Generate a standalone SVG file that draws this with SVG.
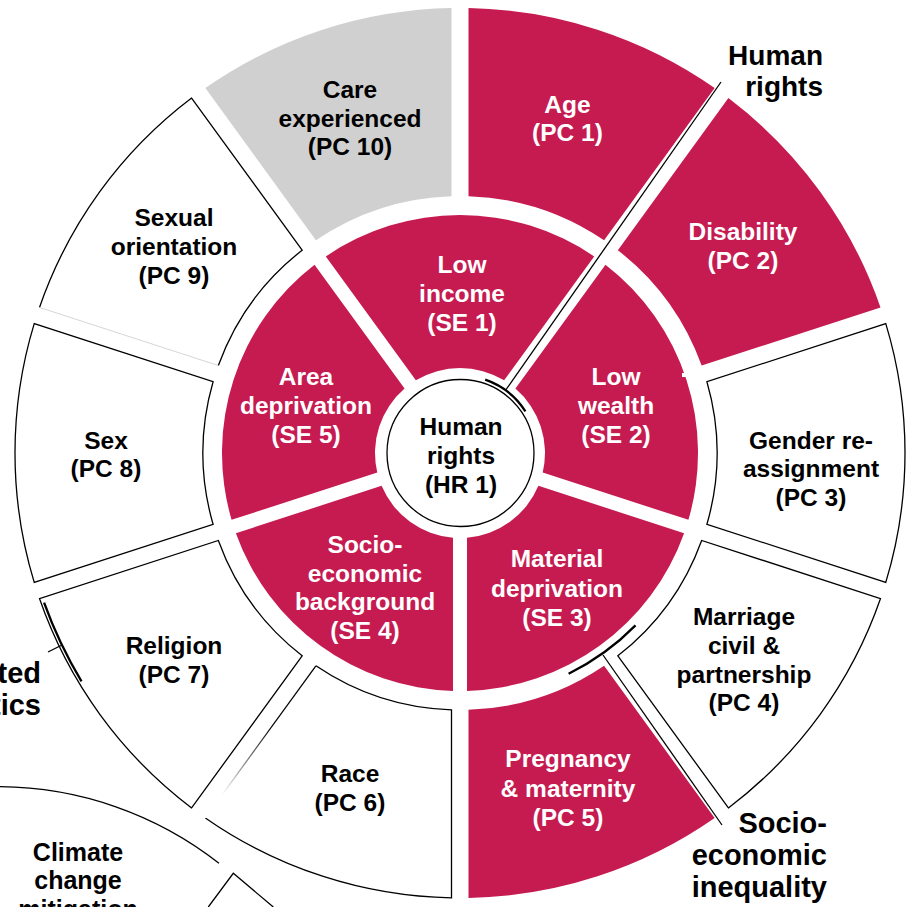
<svg xmlns="http://www.w3.org/2000/svg" width="914" height="907" viewBox="0 0 914 907">
<defs>
<style>
.red{fill:#C51B50;stroke:none}
.wht{fill:#FFFFFF;stroke:#000;stroke-width:1.3;stroke-linejoin:miter}
.gry{fill:#D0D0D0;stroke:none}
.ln{fill:none;stroke:#000;stroke-width:1.3}
.br{fill:none;stroke:#000;stroke-width:2.3}
text{font-family:"Liberation Sans",Arial,sans-serif;font-weight:bold;text-anchor:middle}
.lw{font-size:24.5px;fill:#FFFFFF}
.lb{font-size:24.5px;fill:#000000}
.big{font-size:28.5px;fill:#000000;text-anchor:end}
</style>
<linearGradient id="fade" gradientUnits="userSpaceOnUse" x1="315.9" y1="665.8" x2="205.36" y2="817.95">
<stop offset="0" stop-color="#000"/>
<stop offset="0.4" stop-color="#000"/>
<stop offset="0.85" stop-color="#fff"/>
</linearGradient>
</defs>
<rect width="914" height="907" fill="#FFFFFF"/>

<g id="other-wheels">
<path class="ln" d="M0,786.7 A359.3,359.3 0 0 1 219,863.3"/>
<path class="ln" d="M208.3,907 L233.3,873.3 L273.3,907"/>
</g>

<g id="PC1">
<path class="red" d="M468.5,8.08 A445,445 0 0 1 714.64,88.05 L604.10,240.20 A257,257 0 0 0 468.5,196.14 Z"/>
<text class="lw" x="567.5" y="113">Age</text>
<text class="lw" x="567.5" y="141">(PC 1)</text>
</g>
<g id="PC2">
<path class="red" d="M728.40,98.05 A445,445 0 0 1 880.51,307.43 L701.66,365.55 A257,257 0 0 0 617.86,250.20 Z"/>
<text class="lw" x="743" y="240">Disability</text>
<text class="lw" x="743" y="269">(PC 2)</text>
</g>
<g id="PC3">
<path class="wht" d="M885.77,323.59 A445,445 0 0 1 885.77,582.41 L706.92,524.29 A257,257 0 0 0 706.92,381.71 Z"/>
<text class="lb" x="811" y="449">Gender re-</text>
<text class="lb" x="811" y="477">assignment</text>
<text class="lb" x="811" y="506">(PC 3)</text>
</g>
<g id="PC4">
<path class="wht" d="M880.51,598.57 A445,445 0 0 1 728.40,807.95 L617.86,655.80 A257,257 0 0 0 701.66,540.45 Z"/>
<text class="lb" x="744" y="625">Marriage</text>
<text class="lb" x="744" y="654">civil &amp;</text>
<text class="lb" x="744" y="683">partnership</text>
<text class="lb" x="744" y="711">(PC 4)</text>
</g>
<g id="PC5">
<path class="red" d="M714.64,817.95 A445,445 0 0 1 468.5,897.92 L468.5,709.86 A257,257 0 0 0 604.10,665.80 Z"/>
<text class="lw" x="568" y="767">Pregnancy</text>
<text class="lw" x="568" y="797">&amp; maternity</text>
<text class="lw" x="568" y="826">(PC 5)</text>
</g>
<g id="PC6">
<path fill="#FFFFFF" d="M451.5,897.92 A445,445 0 0 1 205.36,817.95 L315.90,665.80 A257,257 0 0 0 451.5,709.86 Z"/>
<path class="ln" d="M205.36,817.95 A445,445 0 0 0 451.5,897.92 L451.5,709.86 A257,257 0 0 1 315.90,665.80"/>
<line x1="315.90" y1="665.80" x2="205.36" y2="817.95" stroke="url(#fade)" stroke-width="1.3"/>
<text class="lb" x="350" y="782">Race</text>
<text class="lb" x="350" y="811">(PC 6)</text>
</g>
<g id="PC7">
<path class="wht" d="M191.60,807.95 A445,445 0 0 1 39.49,598.57 L218.34,540.45 A257,257 0 0 0 302.14,655.80 Z"/>
<text class="lb" x="174" y="654">Religion</text>
<text class="lb" x="174" y="683">(PC 7)</text>
</g>
<g id="PC8">
<path class="wht" d="M34.23,582.41 A445,445 0 0 1 34.23,323.59 L213.08,381.71 A257,257 0 0 0 213.08,524.29 Z"/>
<text class="lb" x="106" y="449">Sex</text>
<text class="lb" x="106" y="477">(PC 8)</text>
</g>
<g id="PC9">
<path fill="#FFFFFF" d="M39.49,307.43 A445,445 0 0 1 191.60,98.05 L302.14,250.20 A257,257 0 0 0 218.34,365.55 Z"/>
<path class="ln" d="M39.49,307.43 A445,445 0 0 1 191.60,98.05 L302.14,250.20 A257,257 0 0 0 218.34,365.55"/>
<line x1="218.34" y1="365.55" x2="39.49" y2="307.43" stroke="#D6D6D6" stroke-width="1"/>
<text class="lb" x="174" y="226">Sexual</text>
<text class="lb" x="174" y="255">orientation</text>
<text class="lb" x="174" y="284">(PC 9)</text>
</g>
<g id="PC10">
<path class="gry" d="M205.36,88.05 A445,445 0 0 1 451.5,8.08 L451.5,196.14 A257,257 0 0 0 315.90,240.20 Z"/>
<text class="lb" x="350" y="98">Care</text>
<text class="lb" x="350" y="127">experienced</text>
<text class="lb" x="350" y="155">(PC 10)</text>
</g>

<g id="SE1">
<path class="red" d="M325.83,256.42 A238,238 0 0 1 594.17,256.42 L504.13,380.36 A85,85 0 0 0 415.87,380.36 Z"/>
<text class="lw" x="462" y="273">Low</text>
<text class="lw" x="462" y="302">income</text>
<text class="lw" x="462" y="331">(SE 1)</text>
</g>
<g id="SE2">
<path class="red" d="M605.49,264.64 A238,238 0 0 1 688.42,519.86 L542.72,472.52 A85,85 0 0 0 515.45,388.58 Z"/>
<rect x="682" y="373" width="5" height="4" fill="#FFFFFF"/>
<text class="lw" x="616" y="385">Low</text>
<text class="lw" x="616" y="414">wealth</text>
<text class="lw" x="616" y="443">(SE 2)</text>
</g>
<g id="SE3">
<path class="red" d="M684.10,533.18 A238,238 0 0 1 467,690.90 L467,537.71 A85,85 0 0 0 538.40,485.84 Z"/>
<text class="lw" x="557" y="567">Material</text>
<text class="lw" x="557" y="597">deprivation</text>
<text class="lw" x="557" y="626">(SE 3)</text>
</g>
<g id="SE4">
<path class="red" d="M453,690.90 A238,238 0 0 1 235.90,533.18 L381.60,485.84 A85,85 0 0 0 453,537.71 Z"/>
<text class="lw" x="365" y="553">Socio-</text>
<text class="lw" x="365" y="582">economic</text>
<text class="lw" x="365" y="610">background</text>
<text class="lw" x="365" y="639">(SE 4)</text>
</g>
<g id="SE5">
<path class="red" d="M231.58,519.86 A238,238 0 0 1 314.51,264.64 L404.55,388.58 A85,85 0 0 0 377.28,472.52 Z"/>
<text class="lw" x="306" y="385">Area</text>
<text class="lw" x="306" y="414">deprivation</text>
<text class="lw" x="306" y="443">(SE 5)</text>
</g>

<g id="HR1">
<circle cx="460.5" cy="453" r="73.5" fill="#FFFFFF" stroke="#000" stroke-width="1.3"/>
<text class="lb" x="461" y="435">Human</text>
<text class="lb" x="461" y="464">rights</text>
<text class="lb" x="461" y="493">(HR 1)</text>
</g>

<g id="connectors">
<path class="br" d="M485.2,379.7 A77.5,77.5 0 0 1 525.4,411.4"/>
<line class="ln" x1="505.8" y1="390" x2="721" y2="82"/>
<path class="br" d="M635.5,625.4 A246,246 0 0 1 568.6,673.7"/>
<line class="ln" x1="603" y1="655" x2="722" y2="825"/>
<path class="br" d="M81.5,681.3 A442,442 0 0 1 44.1,602.7"/>
<line class="ln" x1="61" y1="645.5" x2="48" y2="652"/>
</g>

<g id="label-human-rights">
<text class="big" x="823" y="65" style="font-size:28px">Human</text>
<text class="big" x="823" y="96" style="font-size:28px">rights</text>
</g>
<g id="label-socio-economic">
<text class="big" x="827" y="833" style="font-size:29px">Socio-</text>
<text class="big" x="827" y="865" style="font-size:29px">economic</text>
<text class="big" x="827" y="897" style="font-size:29px">inequality</text>
</g>
<g id="label-protected">
<text class="big" x="41" y="683" style="font-size:29px">ted</text>
<text class="big" x="41" y="715" style="font-size:29px">tics</text>
</g>
<g id="label-climate">
<text class="lb" x="78" y="860.5" style="font-size:25px">Climate</text>
<text class="lb" x="78" y="889" style="font-size:25px">change</text>
<text class="lb" x="78" y="917.5" style="font-size:25px">mitigation</text>
</g>
</svg>
